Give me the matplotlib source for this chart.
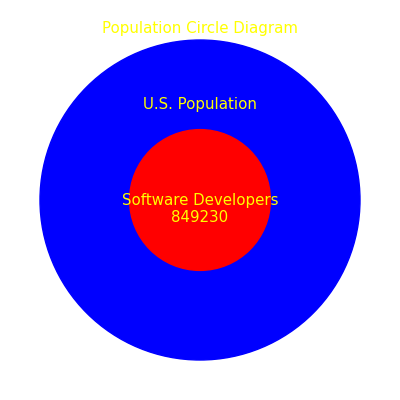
import matplotlib
matplotlib.use("Agg")
import matplotlib.pyplot as plt

# circle sizes (radius in data units) and labels
labels = ["U.S. Population", "Software Developers"]
radii = [1.0, 0.44]
colors = ["blue", "red"]
developers = 849230

fig = plt.figure(figsize=(4, 4), dpi=100)
ax = fig.add_axes([0, 0, 1, 1])
ax.set_xlim(-1.25, 1.25)
ax.set_ylim(-1.25, 1.25)
ax.set_aspect("equal")
ax.axis("off")

for r, c in zip(radii, colors):
    ax.add_patch(plt.Circle((0, 0), r, color=c, zorder=1))

ax.text(0, 0.6, labels[0], color="yellow", fontsize=10.8, ha="center", va="center")
ax.text(0, -0.055, f"{labels[1]}\n{developers}", color="yellow", fontsize=10.8,
        ha="center", va="center", linespacing=1.12)
ax.text(0, 1.07, "Population Circle Diagram", color="yellow", fontsize=10.8,
        ha="center", va="center")

fig.savefig("out.png")
